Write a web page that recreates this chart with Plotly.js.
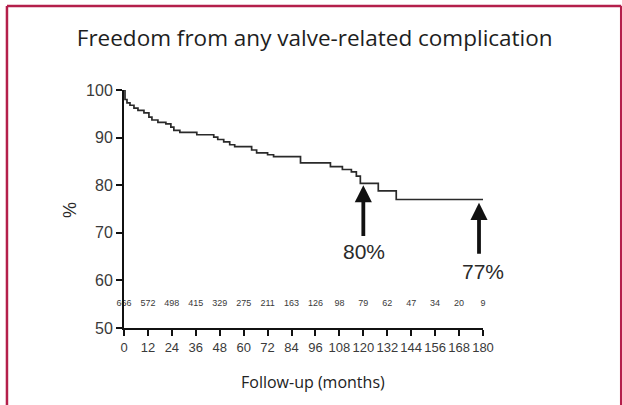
<!DOCTYPE html>
<html>
<head>
<meta charset="utf-8">
<script src="https://cdn.plot.ly/plotly-3.0.1.min.js"></script>
<style>
html,body{margin:0;padding:0;background:#fff;}
#chart{width:622px;height:405px;}
</style>
</head>
<body>
<div id="chart"></div>
<script>
// Kaplan-Meier step curve (months, % free of complication)
const months   = [0, 0.5, 1.5, 3, 5, 7, 10, 12.5, 14, 17, 21, 23.5, 25, 28, 36.5, 45, 47, 50, 53, 55.5, 64, 66.5, 72, 75, 88.5, 103.5, 109.5, 114, 116.5, 118.5, 127.5, 136.5, 180];
const freedom  = [100, 98.0, 97.3, 96.8, 96.2, 95.7, 95.2, 94.3, 93.7, 93.2, 92.9, 92.2, 91.5, 91.1, 90.6, 90.1, 89.6, 89.1, 88.5, 88.1, 87.4, 86.8, 86.4, 86.0, 84.7, 83.9, 83.3, 82.8, 81.9, 80.4, 78.8, 77.0, 77.0];

// Numbers at risk
const riskMonths = [0, 12, 24, 36, 48, 60, 72, 84, 96, 108, 120, 132, 144, 156, 168, 180];
const atRisk     = [666, 572, 498, 415, 329, 275, 211, 163, 126, 98, 79, 62, 47, 34, 20, 9];
const riskRowY   = 55;

// Highlighted values (arrows)
const markMonths = [120, 178];
const markValues = [80, 76.3];
const markTails  = [69, 65.3];
const markLabels = ["80%", "77%"];
const markLabelX = [120.3, 180];
const markLabelY = [66, 61.8];

const xTicks = [0, 12, 24, 36, 48, 60, 72, 84, 96, 108, 120, 132, 144, 156, 168, 180];
const yTicks = [50, 60, 70, 80, 90, 100];

const traces = [
  {
    x: months, y: freedom, type: "scatter", mode: "lines",
    line: {shape: "hv", color: "#2a2a2a", width: 1.7},
    cliponaxis: false, hoverinfo: "skip", showlegend: false
  },
  {
    x: riskMonths, y: atRisk.map(() => riskRowY), text: atRisk.map(String),
    type: "scatter", mode: "text", textposition: "middle center",
    textfont: {family: "Liberation Sans Narrow, Arial Narrow, Liberation Sans, sans-serif", size: 9, color: "#3a3a3a"},
    cliponaxis: false, hoverinfo: "skip", showlegend: false
  }
];

const annotations = [];
for (let i = 0; i < markMonths.length; i++) {
  annotations.push({
    x: markMonths[i], y: markValues[i], xref: "x", yref: "y",
    ax: markMonths[i], ay: markTails[i], axref: "x", ayref: "y",
    showarrow: true, arrowhead: 2, arrowsize: 0.9, arrowwidth: 3.8, arrowcolor: "#111",
    text: ""
  });
  annotations.push({
    x: markLabelX[i], y: markLabelY[i], xref: "x", yref: "y",
    text: markLabels[i], showarrow: false,
    font: {family: "Liberation Sans, Arial, sans-serif", size: 21, color: "#2a2a2a"}
  });
}
annotations.push({
  text: "Follow-up (months)", xref: "paper", yref: "paper",
  x: 0.526, y: -0.227, showarrow: false, xanchor: "center", yanchor: "middle",
  font: {family: "Open Sans, Noto Sans, sans-serif", size: 16, color: "#222"}
});
annotations.push({
  text: "%", xref: "paper", yref: "paper",
  x: -0.150, y: 0.496, showarrow: false, xanchor: "center", yanchor: "middle", textangle: -90,
  font: {family: "Liberation Sans, Arial, sans-serif", size: 18, color: "#2a2a2a"}
});

const layout = {
  width: 622, height: 405,
  margin: {l: 124, r: 139, t: 90, b: 77},
  paper_bgcolor: "#fff", plot_bgcolor: "#fff",
  title: {
    text: "Freedom from any valve-related complication",
    x: 0.506, xanchor: "center", y: 0.906, yanchor: "middle",
    font: {family: "Open Sans, Noto Sans, sans-serif", size: 22.5, color: "#1e1e1e"}
  },
  xaxis: {
    range: [0, 180], tickvals: xTicks, ticktext: xTicks.map(String), tickangle: 0,
    showline: true, linecolor: "#111", linewidth: 2, showgrid: false, zeroline: false,
    ticks: "outside", ticklen: 6, tickwidth: 2, tickcolor: "#111",
    tickfont: {family: "Liberation Sans, Arial, sans-serif", size: 13, color: "#3a3a3a"}, fixedrange: true
  },
  yaxis: {
    range: [50, 100], tickvals: yTicks, ticktext: yTicks.map(String),
    showline: true, linecolor: "#111", linewidth: 2, showgrid: false, zeroline: false,
    ticks: "outside", ticklen: 6, tickwidth: 2, tickcolor: "#111",
    tickfont: {family: "Liberation Sans, Arial, sans-serif", size: 16, color: "#3a3a3a"}, fixedrange: true
  },
  annotations: annotations,
  shapes: [
    {type: "line", xref: "paper", yref: "paper", x0: -0.326, x1: -0.326, y0: 1.353, y1: -0.5, line: {color: "#B41F4B", width: 2.5}},
    {type: "line", xref: "paper", yref: "paper", x0: -0.326, x1: 1.385, y0: 1.353, y1: 1.353, line: {color: "#B41F4B", width: 2.5}},
    {type: "line", xref: "paper", yref: "paper", x0: 1.385, x1: 1.385, y0: 1.353, y1: -0.5, line: {color: "#B41F4B", width: 2.5}}
  ],
  showlegend: false
};

Plotly.newPlot("chart", traces, layout, {displayModeBar: false, staticPlot: true});
</script>
</body>
</html>
